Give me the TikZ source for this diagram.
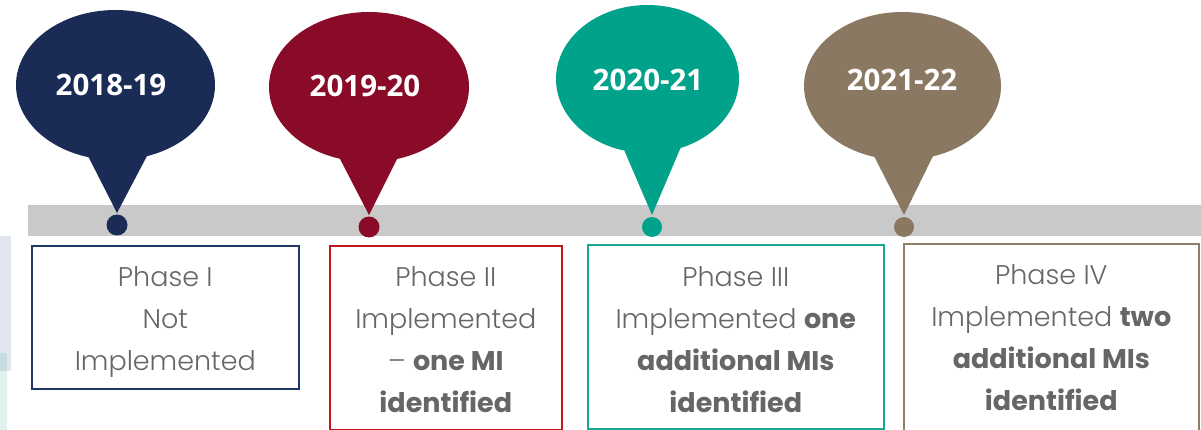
\documentclass[tikz,border=0pt]{standalone}
\usepackage{fontspec}
\usetikzlibrary{shapes.geometric,calc}
\newfontfamily\yearfont{Open Sans}
\newfontfamily\phasefont{Poppins}[UprightFont=* Light, BoldFont=* Bold]

\definecolor{navy}{HTML}{1A2C55}
\definecolor{wine}{HTML}{890B28}
\definecolor{jade}{HTML}{00A38A}
\definecolor{taupe}{HTML}{8B7862}
\definecolor{navyline}{HTML}{1F3864}
\definecolor{redline}{HTML}{C0151B}
\definecolor{jadeline}{HTML}{1AA88F}
\definecolor{taupeline}{HTML}{8E7D69}
\definecolor{bar}{HTML}{C9C9C9}
\definecolor{phasetext}{HTML}{666666}
\definecolor{edgeblue}{HTML}{E1E5ED}
\definecolor{edgeteal}{HTML}{E0F2F0}
\definecolor{edgemix}{HTML}{C9DCDD}

\tikzset{
  balloon/.style={ellipse, fill=#1, inner sep=0pt, outer sep=0pt, minimum width=200pt, minimum height=150pt},
  pin/.style={circle, fill=#1, inner sep=0pt, minimum size=21pt},
  year/.style={text=white, font=\yearfont\bfseries\fontsize{29.5}{34}\selectfont, inner sep=0pt},
  phasebox/.style={draw=#1, line width=1.6pt, anchor=north west, inner sep=0pt},
  phase/.style={text=phasetext, font=\phasefont\fontsize{27}{42}\selectfont, align=center, anchor=north, inner sep=0pt},
}

\begin{document}
\begin{tikzpicture}[x=1pt, y=-1pt]
\useasboundingbox (0,0) rectangle (1201,430);

% strips at the left margin
\fill[edgeblue] (0,236) rectangle (11,371);
\fill[edgeteal] (0,353) rectangle (7,430);
\fill[edgemix] (0,353) rectangle (7,371);

% timeline bar
\fill[bar] (28,205) rectangle (1201,236);

% balloons
\node[balloon=navy, minimum width=199pt] (b1) at (115.5,85) {};
\node[balloon=wine] (b2) at (369,87) {};
\node[balloon=jade, minimum width=183pt, minimum height=148pt] (b3) at (647.5,79) {};
\node[balloon=taupe, minimum width=197pt, minimum height=148pt] (b4) at (902.5,86) {};

% pins on the bar
\node[pin=navy] (d1) at (117,225) {};
\node[pin=wine] (d2) at (369,227) {};
\node[pin=jade, minimum size=20pt] (d3) at (652,227) {};
\node[pin=taupe, minimum size=20pt] (d4) at (904,227) {};

% tails joining balloons to pins
\fill[navy] ($(b1.center)+(-28,60)$) -- ($(b1.center)+(-28,70)$) -- ($(d1.center)+(0,-12)$) -- ($(b1.center)+(32,70)$) -- ($(b1.center)+(32,60)$) -- cycle;
\fill[wine] ($(b2.center)+(-30,60)$) -- ($(b2.center)+(-30,70)$) -- ($(d2.center)+(0,-12)$) -- ($(b2.center)+(29,70)$) -- ($(b2.center)+(29,60)$) -- cycle;
\fill[jade] ($(b3.center)+(-23,60)$) -- ($(b3.center)+(-23,72)$) -- ($(d3.center)+(0,-12)$) -- ($(b3.center)+(33,69)$) -- ($(b3.center)+(33,60)$) -- cycle;
\fill[taupe] ($(b4.center)+(-28,60)$) -- ($(b4.center)+(-28,71)$) -- ($(d4.center)+(0,-12)$) -- ($(b4.center)+(31,69)$) -- ($(b4.center)+(31,60)$) -- cycle;

% year labels
\node[year] (y1) at (111,85) {2018-19};
\node[year] (y2) at (365,86) {2019-20};
\node[year] (y3) at (648,80) {2020-21};
\node[year] (y4) at (902,80) {2021-22};

% phase boxes
\node[phasebox=navyline, minimum width=267pt, minimum height=143pt] (p1) at (31,245) {};
\node[phasebox=redline, minimum width=232pt, minimum height=184pt] (p2) at (329,245) {};
\node[phasebox=jadeline, minimum width=296pt, minimum height=184pt] (p3) at (587,244) {};
\node[phasebox=taupeline, minimum width=295pt, minimum height=200pt] (p4) at (903,243) {};

% phase descriptions
\node[phase] (t1) at ($(p1.north)+(0,21)$) {Phase I\\Not\\Implemented};
\node[phase] (t2) at ($(p2.north)+(0,21)$) {Phase II\\Implemented\\– \textbf{one MI}\\\textbf{identified}};
\node[phase] (t3) at ($(p3.north)+(0,22)$) {Phase III\\Implemented \textbf{one}\\\textbf{additional MIs}\\\textbf{identified}};
\node[phase] (t4) at ($(p4.north)+(0,21)$) {Phase IV\\Implemented \textbf{two}\\\textbf{additional MIs}\\\textbf{identified}};
\end{tikzpicture}
\end{document}
